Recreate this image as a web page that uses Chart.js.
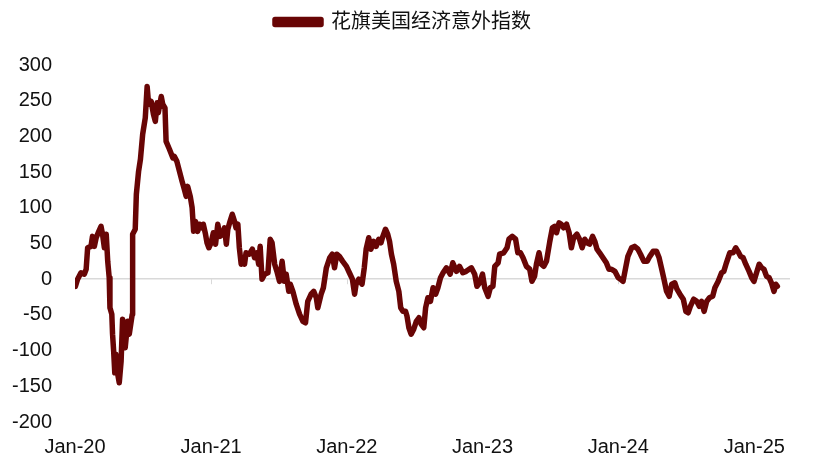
<!DOCTYPE html>
<html>
<head>
<meta charset="utf-8">
<script src="https://cdn.jsdelivr.net/npm/chart.js@4.4.1/dist/chart.umd.min.js"></script>
<style>
  html, body { margin: 0; padding: 0; background: #fff; }
  #wrap { width: 818px; height: 472px; }
</style>
</head>
<body>
<div id="wrap"><canvas id="chart"></canvas></div>
<script>
const seriesName = '花旗美国经济意外指数'
const tickLabels = ['Jan-20', 'Jan-21', 'Jan-22', 'Jan-23', 'Jan-24', 'Jan-25']
const tickDates = ['2020-01-01', '2021-01-01', '2022-01-01', '2023-01-01', '2024-01-01', '2025-01-01']
const axisStart = '2020-01-01'
const axisEnd = '2025-04-07'
const yMin = -200, yMax = 300, yStep = 50

const dates = [
  '2020-01-02','2020-01-08','2020-01-17','2020-01-26','2020-01-31','2020-02-04','2020-02-13','2020-02-17','2020-02-22','2020-02-27',
  '2020-03-05','2020-03-11','2020-03-15','2020-03-20','2020-03-25','2020-03-29','2020-04-02','2020-04-04','2020-04-09','2020-04-11',
  '2020-04-14','2020-04-17','2020-04-20','2020-04-25','2020-04-29','2020-05-04','2020-05-08','2020-05-15','2020-05-22','2020-05-26',
  '2020-06-03','2020-06-04','2020-06-11','2020-06-14','2020-06-20','2020-06-25','2020-07-01','2020-07-08','2020-07-13','2020-07-17',
  '2020-07-24','2020-07-30','2020-08-04','2020-08-09','2020-08-12','2020-08-20','2020-08-24','2020-08-30','2020-09-02','2020-09-11',
  '2020-09-20','2020-09-24','2020-10-01','2020-10-08','2020-10-15','2020-10-21','2020-10-26','2020-10-30','2020-11-06','2020-11-11',
  '2020-11-15','2020-11-20','2020-11-26','2020-12-01','2020-12-08','2020-12-11','2020-12-17','2020-12-21','2020-12-26',
  '2021-01-01','2021-01-07','2021-01-13','2021-01-19','2021-01-25','2021-02-01','2021-02-06','2021-02-11','2021-02-15','2021-02-21',
  '2021-02-27','2021-03-05','2021-03-09','2021-03-14','2021-03-18','2021-03-23','2021-03-27','2021-04-01','2021-04-05','2021-04-14',
  '2021-04-22','2021-04-28','2021-05-04','2021-05-09','2021-05-13','2021-05-18','2021-05-25','2021-06-03','2021-06-09','2021-06-14',
  '2021-06-21','2021-06-27','2021-07-04','2021-07-11','2021-07-17','2021-07-22','2021-07-29','2021-08-02','2021-08-09','2021-08-18',
  '2021-08-27','2021-09-05','2021-09-12','2021-09-18','2021-09-27','2021-10-04','2021-10-11','2021-10-15','2021-10-24','2021-10-30',
  '2021-11-07','2021-11-16','2021-11-23','2021-11-29','2021-12-05','2021-12-12','2021-12-21','2021-12-31',
  '2022-01-08','2022-01-16','2022-01-22','2022-01-26','2022-02-02','2022-02-11','2022-02-17','2022-02-22','2022-03-01','2022-03-07',
  '2022-03-14','2022-03-21','2022-03-28','2022-04-03','2022-04-08','2022-04-15','2022-04-21','2022-04-26','2022-05-01','2022-05-07',
  '2022-05-14','2022-05-21','2022-05-26','2022-06-01','2022-06-08','2022-06-12','2022-06-17','2022-06-23','2022-06-30','2022-07-07',
  '2022-07-14','2022-07-20','2022-07-27','2022-08-01','2022-08-07','2022-08-14','2022-08-21','2022-08-28','2022-09-03','2022-09-10',
  '2022-09-17','2022-09-26','2022-10-06','2022-10-13','2022-10-23','2022-10-31','2022-11-09','2022-11-18','2022-12-02','2022-12-11',
  '2022-12-17','2022-12-24',
  '2023-01-01','2023-01-07','2023-01-16','2023-01-22','2023-01-29','2023-02-03','2023-02-12','2023-02-16','2023-02-27','2023-03-08',
  '2023-03-13','2023-03-22','2023-03-31','2023-04-06','2023-04-13','2023-04-20','2023-04-29','2023-05-08','2023-05-14','2023-05-21',
  '2023-05-26','2023-06-02','2023-06-08','2023-06-15','2023-06-22','2023-07-01','2023-07-08','2023-07-14','2023-07-19','2023-07-26',
  '2023-08-01','2023-08-07','2023-08-15','2023-08-22','2023-08-28','2023-09-03','2023-09-12','2023-09-19','2023-09-26','2023-10-03',
  '2023-10-09','2023-10-16','2023-10-24','2023-10-30','2023-11-05','2023-11-12','2023-11-21','2023-11-30','2023-12-07','2023-12-14',
  '2023-12-23',
  '2024-01-01','2024-01-07','2024-01-14','2024-01-21','2024-01-27','2024-02-06','2024-02-14','2024-02-23','2024-03-01','2024-03-10',
  '2024-03-19','2024-03-26','2024-04-04','2024-04-13','2024-04-20','2024-04-27','2024-05-03','2024-05-10','2024-05-17','2024-05-24',
  '2024-06-01','2024-06-07','2024-06-15','2024-06-24','2024-07-01','2024-07-07','2024-07-13','2024-07-22','2024-07-30','2024-08-06',
  '2024-08-12','2024-08-19','2024-08-26','2024-09-02','2024-09-11','2024-09-17','2024-09-26','2024-10-05','2024-10-11','2024-10-18',
  '2024-10-27','2024-11-05','2024-11-12','2024-11-18','2024-11-25','2024-12-02','2024-12-09','2024-12-18','2024-12-25','2024-12-31',
  '2025-01-07','2025-01-14','2025-01-21','2025-01-27','2025-02-03','2025-02-10','2025-02-16','2025-02-23','2025-02-28','2025-03-04'
]

const values = [
  -10, 0, 9, 7, 14, 44, 46, 60, 46, 58,
  67, 74, 63, 44, 63, 25, 2, -40, -49, -77,
  -101, -131, -105, -133, -145, -115, -56, -96, -59, -77,
  -49, 63, 70, 119, 151, 168, 203, 226, 270, 245,
  249, 231, 221, 247, 233, 256, 245, 240, 193, 182,
  170, 172, 165, 151, 137, 126, 116, 130, 116, 100,
  67, 81, 67, 77, 72, 77, 63, 51, 44,
  51, 65, 49, 77, 60, 63, 72, 49, 70, 81,
  91, 81, 72, 77, 44, 21, 30, 21, 37, 35,
  42, 30, 37, 21, 46, 0, 7, 9, 56, 51,
  21, 11, -3, 25, -3, 7, -17, -7, -17, -35,
  -49, -59, -61, -31, -21, -17, -26, -40, -21, -12,
  16, 30, 35, 16, 35, 32, 25, 18,
  9, 0, -21, -7, 0, -7, 16, 42, 58, 42,
  53, 46, 56, 51, 60, 70, 63, 53, 35, 21,
  -3, -17, -40, -45, -45, -52, -68, -77, -70, -59,
  -54, -63, -68, -40, -26, -31, -12, -21, -12, 2,
  9, 16, 7, 23, 11, 18, 9, 11, 16, 7,
  -10, -5,
  7, -12, -24, -12, -10, 18, 23, 35, 37, 44,
  56, 60, 56, 37, 37, 30, 18, 14, -3, 4,
  21, 37, 21, 18, 25, 53, 72, 74, 65, 79,
  77, 72, 77, 65, 44, 58, 63, 56, 44, 56,
  51, 49, 60, 53, 42, 37, 30, 23, 14, 14,
  11,
  2, 0, -3, 16, 32, 44, 46, 42, 35, 25,
  25, 32, 39, 39, 30, 14, 0, -17, -24, -7,
  -5, -14, -21, -28, -45, -47, -38, -28, -31, -38,
  -31, -45, -31, -26, -24, -12, -3, 9, 11, 23,
  37, 37, 44, 39, 32, 30, 21, 11, 2, -3,
  9, 21, 16, 14, 4, 2, -5, -17, -7, -10
]

const lineColor = '#680505'
const zeroColor = '#d9d9d9'
const font = { family: '"Liberation Sans", Arial, "Noto Sans CJK SC", sans-serif', size: 20 }

// days since start, used as the x value
const day0 = Date.parse(axisStart + 'T00:00:00Z')
function dayNum(s) { return (Date.parse(s + 'T00:00:00Z') - day0) / 864e5 }

// small tick marks hanging off the zero line
const zeroTicks = {
  id: 'zeroTicks',
  beforeDatasetsDraw(chart) {
    const { ctx, scales: { x, y } } = chart
    const y0 = y.getPixelForValue(0)
    ctx.save()
    ctx.strokeStyle = zeroColor
    ctx.lineWidth = 1
    tickDates.forEach(d => {
      const px = Math.round(x.getPixelForValue(dayNum(d))) + 0.5
      ctx.beginPath(); ctx.moveTo(px, y0); ctx.lineTo(px, y0 + 5); ctx.stroke()
    })
    ctx.restore()
  }
}

// extra room under the legend, and nudge it a little to the right
const legendTweak = {
  id: 'legendTweak',
  beforeInit(chart) {
    const lg = chart.legend
    const fit = lg.fit, draw = lg.draw
    lg.fit = function () { fit.call(lg); this.height += 23 }
    lg.draw = function () {
      chart.ctx.save(); chart.ctx.translate(8, 0); draw.call(lg); chart.ctx.restore()
    }
  }
}

new Chart(document.getElementById('chart'), {
  type: 'line',
  data: {
    datasets: [{
      label: seriesName,
      data: dates.map((d, i) => ({ x: dayNum(d), y: values[i] })),
      borderColor: lineColor,
      backgroundColor: lineColor,
      borderWidth: 5.5,
      borderJoinStyle: 'round',
      borderCapStyle: 'round',
      pointRadius: 0,
      tension: 0
    }]
  },
  options: {
    responsive: true,
    maintainAspectRatio: false,
    animation: false,
    devicePixelRatio: 1,
    layout: { padding: { left: 0, right: 28, top: 2, bottom: 0 } },
    scales: {
      x: {
        type: 'linear',
        min: 0,
        max: dayNum(axisEnd),
        afterBuildTicks: scale => { scale.ticks = tickDates.map(d => ({ value: dayNum(d) })) },
        grid: { display: false, drawTicks: false },
        border: { display: false },
        ticks: {
          font, color: '#111', padding: 13, maxRotation: 0, autoSkip: false,
          callback: (v, i) => tickLabels[i]
        }
      },
      y: {
        min: yMin,
        max: yMax,
        afterFit: scale => { scale.width = 75 },
        grid: {
          drawTicks: false,
          lineWidth: 1.5,
          color: c => c.tick && c.tick.value === 0 ? zeroColor : 'rgba(0,0,0,0)'
        },
        border: { display: false },
        ticks: { font, color: '#111', padding: 23, stepSize: yStep }
      }
    },
    plugins: {
      legend: {
        position: 'top',
        labels: { font, color: '#111', boxWidth: 46, boxHeight: 5, padding: 10 }
      },
      tooltip: { enabled: false }
    }
  },
  plugins: [zeroTicks, legendTweak]
})
</script>
</body>
</html>
